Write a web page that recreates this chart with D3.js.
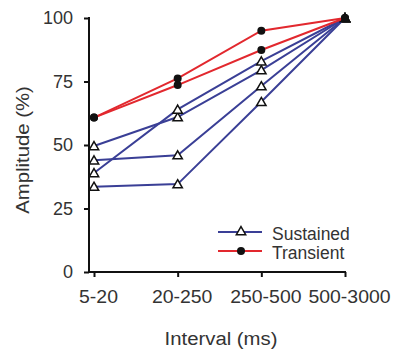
<!DOCTYPE html>
<html>
<head>
<meta charset="utf-8">
<script src="https://cdn.jsdelivr.net/npm/d3@7"></script>
<style>
  body { margin: 0; background: #fff; }
  svg { font-family: "Liberation Sans", Arial, sans-serif; }
  .tick text { font-size: 18px; fill: #333; }
  .domain, .tick line { stroke: #111; stroke-width: 2px; }
</style>
</head>
<body>
<svg width="396" height="350"></svg>
<script>
  'use strict';

  const intervals = ['5-20', '20-250', '250-500', '500-3000'];
  const yTicks = [0, 25, 50, 75, 100];

  // sustained cells (blue, open triangles)
  const sustainedA = [49.6, 61, 79.5, 100];
  const sustainedB = [39, 64, 83, 100];
  const sustainedC = [44, 46, 73.2, 100];
  const sustainedD = [33.6, 34.6, 67, 100];

  // transient cells (red, filled circles)
  const transientA = [60.8, 76.2, 95, 100];
  const transientB = [60.8, 73.6, 87.4, 100];

  const blue = '#3a3f96';
  const red = '#e2282e';

  const svg = d3.select('svg');

  const x = d3.scalePoint().domain(intervals).range([94, 345]);
  const y = d3.scaleLinear().domain([0, 100]).range([272, 18]);

  // axes
  svg.append('g')
    .attr('transform', 'translate(0,272)')
    .call(d3.axisBottom(x).tickSizeOuter(0).tickSize(5).tickPadding(13))
    .call(g => g.select('.domain').attr('d', 'M88,0H346'))
    .call(g => g.selectAll('.tick text').attr('transform', 'translate(4,0) scale(1.08,1)'));

  svg.append('g')
    .attr('transform', 'translate(89,0)')
    .call(d3.axisLeft(y).tickValues(yTicks).tickSizeOuter(0).tickSize(5).tickPadding(11))
    .call(g => g.select('.domain').attr('d', 'M0,17V273'));

  svg.append('text')
    .attr('transform', 'translate(221,345) scale(1.13,1)')
    .attr('text-anchor', 'middle')
    .attr('font-size', 18).attr('fill', '#333')
    .text('Interval (ms)');

  svg.append('text')
    .attr('transform', 'translate(29,150) rotate(-90) scale(1.13,1)')
    .attr('text-anchor', 'middle')
    .attr('font-size', 18).attr('fill', '#333')
    .text('Amplitude (%)');

  const line = d3.line().x((d, i) => x(intervals[i])).y(d => y(d));
  const tri = d3.symbol().type(d3.symbolTriangle).size(38);

  const drawSeries = (vals, color, marker) => {
    const g = svg.append('g');
    g.append('path')
      .attr('d', line(vals))
      .attr('fill', 'none')
      .attr('stroke', color)
      .attr('stroke-width', 2);
    g.selectAll('.pt').data(vals).enter()
      .append(marker === 'tri' ? 'path' : 'circle')
      .attr('class', 'pt')
      .each(function (d, i) {
        const s = d3.select(this);
        if (marker === 'tri') {
          s.attr('d', tri)
            .attr('transform', `translate(${x(intervals[i])},${y(d) + 1})`)
            .attr('fill', '#fff').attr('stroke', '#111').attr('stroke-width', 1.5);
        } else {
          s.attr('cx', x(intervals[i])).attr('cy', y(d)).attr('r', 4).attr('fill', '#111');
        }
      });
  };

  [sustainedA, sustainedB, sustainedC, sustainedD].forEach(s => drawSeries(s, blue, 'tri'));
  [transientA, transientB].forEach(s => drawSeries(s, red, 'dot'));

  // final point is a filled triangle in the reference
  svg.append('path')
    .attr('d', tri)
    .attr('transform', `translate(${x('500-3000')},${y(100) + 1})`)
    .attr('fill', '#111');

  // legend
  const legend = svg.append('g').attr('transform', 'translate(218,0)');
  const items = [['Sustained', blue, 'tri', 232], ['Transient', red, 'dot', 251]];
  items.forEach(([label, color, marker, ly]) => {
    legend.append('line')
      .attr('x1', 0).attr('x2', 44).attr('y1', ly).attr('y2', ly)
      .attr('stroke', color).attr('stroke-width', 2);
    if (marker === 'tri') {
      legend.append('path').attr('d', tri)
        .attr('transform', `translate(23,${ly})`)
        .attr('fill', '#fff').attr('stroke', '#111').attr('stroke-width', 1.5);
    } else {
      legend.append('circle').attr('cx', 23).attr('cy', ly).attr('r', 4).attr('fill', '#111');
    }
    legend.append('text')
      .attr('x', 54).attr('y', ly + 8)
      .attr('font-size', 17.5).attr('fill', '#333')
      .text(label);
  });
</script>
</body>
</html>
